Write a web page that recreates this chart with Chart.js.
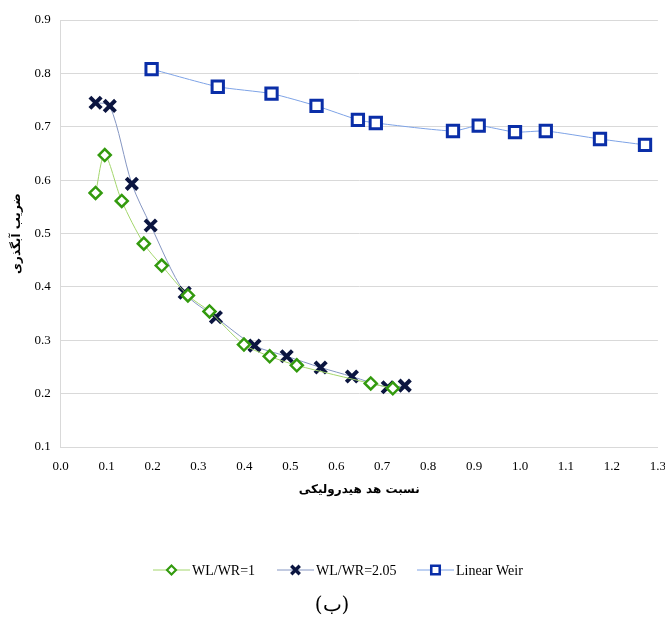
<!DOCTYPE html>
<html>
<head>
<meta charset="utf-8">
<script src="https://cdn.jsdelivr.net/npm/chart.js@4"></script>
<style>
  body { margin: 0; background: #fff; }
  #wrap { width: 665px; height: 624px; position: relative; overflow: hidden; }
</style>
</head>
<body>
<div id="wrap"><canvas id="chart" width="670" height="624"></canvas></div>
<script>
const ratio1X = [0.076, 0.096, 0.133, 0.181, 0.220, 0.277, 0.324, 0.399, 0.455, 0.514, 0.675, 0.723];
const ratio1Y = [0.576, 0.647, 0.561, 0.481, 0.440, 0.384, 0.354, 0.292, 0.270, 0.253, 0.219, 0.210];

const ratio205X = [0.076, 0.107, 0.155, 0.196, 0.270, 0.338, 0.422, 0.492, 0.566, 0.634, 0.712, 0.749];
const ratio205Y = [0.745, 0.739, 0.593, 0.515, 0.389, 0.343, 0.290, 0.270, 0.249, 0.232, 0.212, 0.215];

const linearX = [0.198, 0.342, 0.459, 0.557, 0.647, 0.686, 0.854, 0.910, 0.989, 1.056, 1.174, 1.272];
const linearY = [0.808, 0.775, 0.762, 0.739, 0.713, 0.707, 0.692, 0.702, 0.690, 0.692, 0.677, 0.666];

const seriesNames = ["WL/WR=1", "WL/WR=2.05", "Linear Weir"];
const xTitle = "نسبت هد هیدرولیکی";
const yTitle = "ضریب آبگذری";
const caption = "(ب)";

function pts(xs, ys) {
  return xs.map(function (x, i) { return { x: x, y: ys[i] }; });
}

// legend + caption under the plot, drawn like the excel one (line through marker)
const bottomLegend = {
  id: "bottomLegend",
  afterDraw: function (chart) {
    const ctx = chart.ctx;
    const items = [
      { x: 153, ds: 0 },
      { x: 277, ds: 1 },
      { x: 417, ds: 2 },
    ];
    const y = 570;
    ctx.save();
    items.forEach(function (it) {
      const ds = chart.data.datasets[it.ds];
      ctx.strokeStyle = ds.borderColor;
      ctx.lineWidth = 1;
      ctx.beginPath();
      ctx.moveTo(it.x, y);
      ctx.lineTo(it.x + 37, y);
      ctx.stroke();
      ctx.fillStyle = ds.pointBackgroundColor;
      ctx.strokeStyle = ds.pointBorderColor;
      ctx.lineWidth = ds.pointBorderWidth * 0.85;
      Chart.helpers.drawPoint(ctx, {
        pointStyle: ds.pointStyle,
        radius: ds.pointRadius * 0.75,
        borderWidth: ds.pointBorderWidth * 0.85,
        rotation: 0,
      }, it.x + 18.5, y);
      ctx.fillStyle = "#000";
      ctx.font = "14px 'Liberation Serif'";
      ctx.textBaseline = "middle";
      ctx.textAlign = "left";
      ctx.fillText(ds.label, it.x + 39, y + 1);
    });
    ctx.font = "20px 'DejaVu Serif'";
    ctx.textAlign = "center";
    ctx.fillText(caption, 332, 606);
    ctx.restore();
  },
};

const ctx = document.getElementById("chart").getContext("2d");
const myChart = new Chart(ctx, {
  type: "scatter",
  data: {
    datasets: [
      {
        label: seriesNames[0],
        data: pts(ratio1X, ratio1Y),
        showLine: true,
        tension: 0.3,
        borderColor: "#a3d66c",
        borderWidth: 1,
        pointStyle: "rectRot",
        pointRadius: 6,
        pointBorderWidth: 2.5,
        pointBorderColor: "#339a0e",
        pointBackgroundColor: "#ffffff",
      },
      {
        label: seriesNames[1],
        data: pts(ratio205X, ratio205Y),
        showLine: true,
        tension: 0.3,
        borderColor: "#8596c2",
        borderWidth: 1,
        pointStyle: "crossRot",
        pointRadius: 8,
        pointBorderWidth: 4,
        pointBorderColor: "#0b1540",
        pointBackgroundColor: "#0b1540",
      },
      {
        label: seriesNames[2],
        data: pts(linearX, linearY),
        showLine: true,
        tension: 0.2,
        borderColor: "#7ea3e6",
        borderWidth: 1,
        pointStyle: "rect",
        pointRadius: 8,
        pointBorderWidth: 3,
        pointBorderColor: "#0a2ea8",
        pointBackgroundColor: "#ffffff",
      },
    ],
  },
  options: {
    responsive: false,
    animation: false,
    layout: { padding: { top: 20, right: 0, bottom: 127, left: 2 } },
    plugins: {
      legend: { display: false },
      tooltip: { enabled: false },
    },
    scales: {
      x: {
        type: "linear",
        min: 0,
        max: 1.3,
        ticks: {
          stepSize: 0.1,
          color: "#000",
          padding: 4,
          font: { family: "Liberation Serif", size: 13 },
          callback: function (v) { return v.toFixed(1); },
        },
        grid: { display: false },
        border: { display: true, color: "#d9d9d9" },
        title: {
          display: true,
          text: xTitle,
          color: "#000",
          padding: { top: 4, bottom: 0 },
          font: { family: "DejaVu Sans", size: 12, weight: "bold" },
        },
      },
      y: {
        min: 0.1,
        max: 0.9,
        ticks: {
          stepSize: 0.1,
          color: "#000",
          padding: 10,
          font: { family: "Liberation Serif", size: 13 },
          callback: function (v) { return v.toFixed(1); },
        },
        grid: { color: "#d9d9d9", drawTicks: false },
        border: { display: true, color: "#d9d9d9" },
        title: {
          display: true,
          text: yTitle,
          color: "#000",
          padding: { top: 8, bottom: 0 },
          font: { family: "DejaVu Sans", size: 12, weight: "bold" },
        },
      },
    },
  },
  plugins: [bottomLegend],
});
</script>
</body>
</html>
